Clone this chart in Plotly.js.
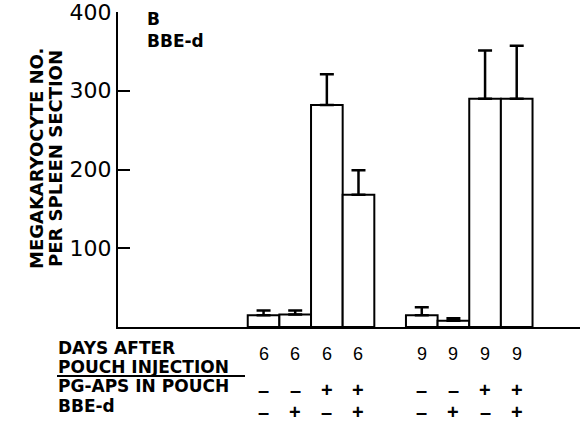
<!DOCTYPE html>
<html>
<head>
<meta charset="utf-8">
<script src="https://cdn.plot.ly/plotly-3.0.1.min.js"></script>
<style>html,body{margin:0;padding:0;background:#fff;}#chart{width:583px;height:429px;}</style>
</head>
<body>
<div id="chart"></div>
<script>
// ---- data ----
var slots = [0, 1, 2, 3, 5, 6, 7, 8];
var days = ["6", "6", "6", "6", "9", "9", "9", "9"];
var pgaps = ["\u2013", "\u2013", "+", "+", "\u2013", "\u2013", "+", "+"];
var bbe = ["\u2013", "+", "\u2013", "+", "\u2013", "+", "\u2013", "+"];
var values = [15, 16, 282, 168, 15, 8, 290, 290];
var errors = [6, 5, 39, 31, 10, 3, 61, 67];
var yTicks = [100, 200, 300, 400];
var yTickText = ["100", "200", "300", "400"];
var yTitleLines = ["MEGAKARYOCYTE NO.", "PER SPLEEN SECTION"];
var rowLabels = ["DAYS AFTER", "POUCH INJECTION", "PG-APS IN POUCH", "BBE-d"];

// ---- geometry helpers ----
var W = 583, H = 429;
var mL = 118, mR = 3, mT = 12, mB = 102;
var plotW = W - mL - mR, plotH = H - mT - mB;
function px2paperX(px) { return (px - mL) / plotW; }
function px2paperY(py) { return (H - mB - py) / plotH; }

var boldFont = {family: "DejaVu Sans", size: 17, color: "#000", weight: "bold"};
var numFont = {family: "Liberation Sans", size: 18, color: "#000"};
var signFont = {family: "Liberation Sans", size: 20, color: "#000", weight: "bold"};

var trace = {
  type: "bar",
  x: slots,
  y: values,
  width: 1,
  marker: {color: "#fff", line: {color: "#000", width: 2}},
  error_y: {type: "data", symmetric: false, array: errors, arrayminus: errors.map(function(){return 0;}),
            color: "#000", thickness: 2.5, width: 7},
  hoverinfo: "none"
};

var annotations = [];
var titleX = [36, 55];
yTitleLines.forEach(function(t, i) {
  annotations.push({text: "<b>" + t + "</b>", xref: "paper", yref: "paper",
    x: px2paperX(titleX[i]), y: px2paperY(159), xanchor: "center", yanchor: "middle",
    textangle: -90, showarrow: false,
    font: {family: "DejaVu Sans", size: 18, color: "#000", weight: "bold"}});
});
var rowY = [348, 367, 386, 406];
rowLabels.forEach(function(t, i) {
  annotations.push({text: "<b>" + t + "</b>", xref: "paper", yref: "paper",
    x: px2paperX(56), y: px2paperY(rowY[i]), xanchor: "left", yanchor: "middle",
    showarrow: false, font: boldFont});
});
slots.forEach(function(s, i) {
  annotations.push({text: days[i], xref: "x", yref: "paper", x: s, y: px2paperY(354),
    xanchor: "center", yanchor: "middle", showarrow: false, font: numFont});
  annotations.push({text: pgaps[i], xref: "x", yref: "paper", x: s, y: px2paperY(390),
    xanchor: "center", yanchor: "middle", showarrow: false, font: signFont});
  annotations.push({text: bbe[i], xref: "x", yref: "paper", x: s, y: px2paperY(412),
    xanchor: "center", yanchor: "middle", showarrow: false, font: signFont});
});

var layout = {
  width: W, height: H,
  margin: {l: mL, r: mR, t: mT, b: mB, pad: 0},
  paper_bgcolor: "#fff", plot_bgcolor: "#fff",
  showlegend: false,
  title: {text: "<b>B<br>BBE-d</b>", xref: "container", yref: "container",
          x: 147 / W, xanchor: "left", y: 1 - 25 / H, yanchor: "top",
          font: boldFont},
  xaxis: {range: [-4.6, 10], showgrid: false, zeroline: false, showticklabels: false,
          ticks: "", showline: true, linecolor: "#000", linewidth: 2, fixedrange: true},
  yaxis: {range: [0, 400], tickvals: yTicks, ticktext: yTickText, ticks: "inside",
          ticklen: 12, tickwidth: 2, tickcolor: "#000", showgrid: false, zeroline: false,
          showline: true, linecolor: "#000", linewidth: 2, ticklabeloverflow: "allow",
          tickfont: {family: "DejaVu Sans", size: 22, color: "#000"},
          automargin: false},
  annotations: annotations,
  shapes: [{type: "line", xref: "paper", yref: "paper", x0: px2paperX(57), x1: px2paperX(245),
            y0: px2paperY(376), y1: px2paperY(376), line: {color: "#000", width: 2}}]
};

Plotly.newPlot("chart", [trace], layout, {displayModeBar: false, staticPlot: true});
</script>
</body>
</html>
